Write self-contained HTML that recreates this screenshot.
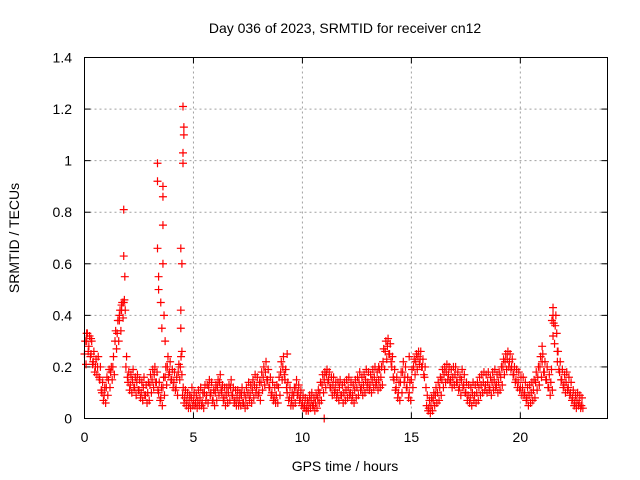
<!DOCTYPE html>
<html><head><meta charset="utf-8"><style>
body{margin:0;background:#fff}
svg{display:block;font-family:"Liberation Sans",sans-serif}
</style></head><body>
<svg id="chart" width="640" height="480">
<text x="345" y="33" text-anchor="middle" font-size="14">Day 036 of 2023, SRMTID for receiver cn12</text>
<text x="345" y="471" text-anchor="middle" font-size="14">GPS time / hours</text>
<text transform="translate(19,238) rotate(-90)" text-anchor="middle" font-size="14">SRMTID / TECUs</text>
<g id="grid"></g><g id="ticks"></g><g id="marks"></g>
<rect x="84.5" y="57.5" width="523" height="361" fill="none" stroke="#000"/>
</svg>
<script>
const xTicks=[0,5,10,15,20];
const yTicks=[0,0.2,0.4,0.6,0.8,1,1.2,1.4];
const yTickLabels=["0","0.2","0.4","0.6","0.8","1","1.2","1.4"];
const startHour=0, stepHour=0.1;
const values=[0.25,0.3,0.28,0.25,0.22,0.2,
0.2,0.15,0.1,0.09,0.12,
0.15,0.18,0.2,0.3,0.33,
0.38,0.42,0.45,0.2,0.14,
0.13,0.15,0.12,0.14,0.11,
0.1,0.12,0.09,0.1,0.13,
0.15,0.17,0.14,0.1,0.08,
0.12,0.16,0.2,0.18,0.15,
0.14,0.12,0.18,0.2,0.09,
0.08,0.07,0.06,0.08,0.07,
0.06,0.07,0.08,0.06,0.1,
0.09,0.12,0.1,0.07,0.1,
0.12,0.14,0.1,0.08,0.09,
0.1,0.12,0.09,0.07,0.08,
0.07,0.09,0.06,0.08,0.1,
0.09,0.11,0.13,0.12,0.1,
0.14,0.16,0.18,0.15,0.12,
0.1,0.08,0.09,0.12,0.18,
0.2,0.15,0.1,0.08,0.07,
0.09,0.12,0.1,0.08,0.06,
0.05,0.04,0.06,0.07,0.05,
0.06,0.08,0.1,0.13,0.15,
0.17,0.15,0.12,0.13,0.11,
0.1,0.12,0.09,0.1,0.11,
0.12,0.1,0.09,0.11,0.12,
0.14,0.12,0.13,0.15,0.14,
0.13,0.15,0.16,0.14,0.15,
0.16,0.22,0.26,0.28,0.25,
0.2,0.15,0.12,0.1,0.14,
0.18,0.16,0.12,0.1,0.15,
0.2,0.22,0.24,0.23,0.2,
0.16,0.05,0.04,0.05,0.07,
0.09,0.1,0.12,0.15,0.17,
0.18,0.17,0.15,0.16,0.17,
0.14,0.12,0.15,0.13,0.1,
0.09,0.08,0.1,0.09,0.1,
0.12,0.13,0.14,0.13,0.14,
0.12,0.14,0.15,0.13,0.14,
0.16,0.2,0.22,0.23,0.22,
0.2,0.17,0.15,0.14,0.12,
0.12,0.1,0.08,0.09,0.1,
0.11,0.14,0.16,0.2,0.22,
0.18,0.15,0.12,0.14,0.32,
0.36,0.22,0.18,0.15,0.13,
0.14,0.12,0.1,0.08,0.06,
0.07,0.06,0.05];
const valuesHigh=[0.3,0.33,0.32,0.3,0.26,0.23,
0.24,0.2,0.14,0.12,0.16,
0.19,0.2,0.24,0.34,0.38,
0.42,0.45,0.46,0.24,0.18,
0.17,0.19,0.16,0.17,0.15,
0.14,0.16,0.13,0.14,0.17,
0.19,0.2,0.18,0.14,0.12,
0.16,0.2,0.24,0.22,0.19,
0.18,0.16,0.21,0.24,0.12,
0.11,0.1,0.09,0.12,0.1,
0.09,0.11,0.12,0.1,0.13,
0.13,0.15,0.14,0.11,0.13,
0.15,0.17,0.13,0.12,0.12,
0.13,0.15,0.12,0.11,0.11,
0.1,0.12,0.1,0.12,0.14,
0.13,0.15,0.17,0.16,0.14,
0.18,0.2,0.22,0.19,0.16,
0.14,0.12,0.13,0.16,0.22,
0.24,0.19,0.14,0.12,0.1,
0.12,0.15,0.13,0.11,0.09,
0.08,0.07,0.09,0.1,0.08,
0.09,0.11,0.14,0.17,0.18,
0.19,0.18,0.16,0.16,0.14,
0.14,0.15,0.13,0.14,0.15,
0.16,0.14,0.13,0.15,0.16,
0.18,0.16,0.17,0.19,0.18,
0.17,0.19,0.2,0.18,0.19,
0.2,0.27,0.3,0.31,0.29,
0.24,0.19,0.16,0.14,0.18,
0.22,0.2,0.16,0.14,0.19,
0.23,0.25,0.26,0.26,0.23,
0.2,0.09,0.07,0.08,0.1,
0.12,0.14,0.16,0.19,0.2,
0.21,0.2,0.19,0.2,0.2,
0.18,0.16,0.19,0.17,0.14,
0.13,0.12,0.14,0.13,0.14,
0.16,0.17,0.18,0.17,0.18,
0.16,0.18,0.19,0.17,0.18,
0.2,0.23,0.25,0.26,0.25,
0.23,0.2,0.19,0.18,0.16,
0.16,0.14,0.12,0.13,0.14,
0.15,0.18,0.2,0.24,0.25,
0.22,0.2,0.17,0.19,0.37,
0.4,0.26,0.22,0.19,0.17,
0.18,0.16,0.14,0.11,0.09,
0.1,0.09,0.08];
const valuesLow=[0.21,0.26,0.24,0.21,0.18,0.17,
0.16,0.11,0.07,0.06,0.09,
0.12,0.15,0.17,0.27,0.3,
0.34,0.39,0.42,0.16,0.11,
0.1,0.12,0.09,0.11,0.08,
0.07,0.09,0.06,0.07,0.1,
0.12,0.14,0.11,0.07,0.05,
0.09,0.13,0.17,0.15,0.12,
0.11,0.09,0.15,0.17,0.06,
0.05,0.04,0.04,0.05,0.05,
0.04,0.05,0.05,0.04,0.07,
0.06,0.09,0.07,0.05,0.07,
0.09,0.11,0.07,0.05,0.06,
0.07,0.09,0.06,0.05,0.05,
0.05,0.06,0.04,0.05,0.07,
0.06,0.08,0.1,0.09,0.07,
0.11,0.13,0.15,0.12,0.09,
0.07,0.06,0.06,0.09,0.15,
0.17,0.12,0.07,0.05,0.05,
0.06,0.09,0.07,0.05,0.04,
0.03,0.03,0.04,0.05,0.03,
0.04,0.06,0.07,0.1,0.12,
0.14,0.12,0.09,0.1,0.08,
0.07,0.09,0.06,0.07,0.08,
0.09,0.07,0.06,0.08,0.09,
0.11,0.09,0.1,0.12,0.11,
0.1,0.12,0.13,0.11,0.12,
0.13,0.19,0.23,0.25,0.22,
0.16,0.11,0.08,0.07,0.1,
0.14,0.12,0.08,0.07,0.12,
0.17,0.19,0.21,0.2,0.17,
0.12,0.03,0.02,0.03,0.05,
0.06,0.07,0.09,0.12,0.14,
0.15,0.14,0.12,0.13,0.14,
0.11,0.09,0.12,0.1,0.07,
0.06,0.05,0.07,0.06,0.07,
0.09,0.1,0.11,0.1,0.11,
0.09,0.11,0.12,0.1,0.11,
0.13,0.17,0.19,0.2,0.19,
0.17,0.14,0.12,0.11,0.09,
0.09,0.07,0.05,0.06,0.07,
0.08,0.11,0.13,0.16,0.18,
0.15,0.12,0.09,0.11,0.29,
0.33,0.19,0.15,0.12,0.1,
0.11,0.09,0.07,0.05,0.04,
0.05,0.04,0.04];
const spikeHours=[1.8,1.8,1.85,3.35,3.35,3.35,3.4,3.4,3.5,3.6,3.6,3.6,3.6,3.55,3.7,4.52,4.56,4.56,4.52,4.52,4.42,4.47,4.42,4.42,4.47,3.65,21.5,21.5,21.45,21.0,21.7,11.0,9.3,13.5,14.9,1.7,1.6,0.1,0.3];
const spikeValues=[0.81,0.63,0.55,0.99,0.92,0.66,0.55,0.5,0.45,0.9,0.86,0.75,0.6,0.35,0.3,1.21,1.13,1.1,1.03,0.99,0.66,0.6,0.42,0.35,0.26,0.4,0.43,0.4,0.38,0.28,0.26,0.0,0.25,0.2,0.24,0.44,0.4,0.33,0.31];
const X0=84.5,X1=607.5,Y0=418.5,Y1=57.5;
const xs=h=>X0+(h/24)*(X1-X0);
const ys=v=>Y0-(v/1.4)*(Y0-Y1);
const NS="http://www.w3.org/2000/svg";
const grid=document.getElementById('grid'),ticks=document.getElementById('ticks'),marks=document.getElementById('marks');
function mk(tag,attrs,parent){const e=document.createElementNS(NS,tag);for(const k in attrs)e.setAttribute(k,attrs[k]);parent.appendChild(e);return e;}
xTicks.forEach(t=>{const x=xs(t);
 if(t>0){const g=mk('line',{x1:x,x2:x,y1:Y0,y2:Y1,stroke:'#a0a0a0','stroke-dasharray':'2,3'},grid);
 
 }
 mk('line',{x1:x,x2:x,y1:Y0,y2:Y0-6,stroke:'#000'},ticks);
 mk('line',{x1:x,x2:x,y1:Y1,y2:Y1+6,stroke:'#000'},ticks);
 const l=mk('text',{x:x,y:442,'text-anchor':'middle','font-size':14},ticks);l.textContent=t;
 
 });
yTicks.forEach((t,i)=>{const y=ys(t);
 if(t>0&&t<1.4){const g=mk('line',{x1:X0,x2:X1,y1:y,y2:y,stroke:'#a0a0a0','stroke-dasharray':'2,3'},grid);
 
 }
 mk('line',{x1:X0,x2:X0+6,y1:y,y2:y,stroke:'#000'},ticks);
 mk('line',{x1:X1,x2:X1-6,y1:y,y2:y,stroke:'#000'},ticks);
 const l=mk('text',{x:72,y:y+5,'text-anchor':'end','font-size':14},ticks);l.textContent=yTickLabels[i];
 
 });
function plus(h,v){const x=xs(h),y=ys(v);
 const p=mk('path',{d:`M${x-4},${y}H${x+4}M${x},${y-4}V${y+4}`,stroke:'#f00','stroke-width':1.2,fill:'none'},marks);
 
 }
values.forEach((v,i)=>plus(startHour+i*stepHour,v));
valuesHigh.forEach((v,i)=>plus(startHour+0.03+i*stepHour,v));
valuesLow.forEach((v,i)=>plus(startHour+0.07+i*stepHour,v));
spikeHours.forEach((h,i)=>plus(h,spikeValues[i]));
</script>
</body></html>
